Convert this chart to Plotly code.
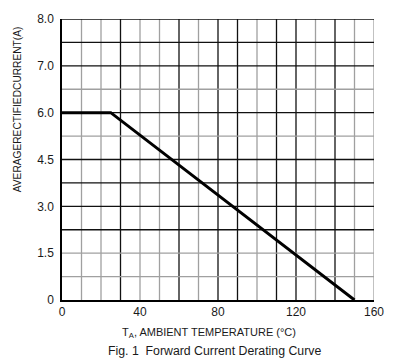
import plotly.graph_objects as go

# Data
temp_c = [0, 25, 150]
current_a = [6.0, 6.0, 0.0]
x_tick_vals = [0, 40, 80, 120, 160]
x_tick_text = ["0", "40", "80", "120", "160"]
# printed y labels sit on an evenly spaced scale (top two labels as printed)
y_tick_vals = [0, 1.5, 3.0, 4.5, 6.0, 7.5, 9.0]
y_tick_text = ["0", "1.5", "3.0", "4.5", "6.0", "7.0", "8.0"]
x_grid = [10, 20, 30, 40, 50, 60, 70, 80, 90, 100, 110, 120, 130, 140, 150, 160]
x_grid_dark = [0, 0, 1, 0, 0, 1, 0, 1, 1, 0, 1, 1, 0, 1, 0, 0]
y_grid = [0.75, 1.5, 2.25, 3.0, 3.75, 4.5, 5.25, 6.0, 6.75, 7.5, 8.25, 9.0]
y_grid_dark = [0, 0, 1, 1, 1, 1, 0, 1, 0, 1, 1, 1]

BLACK = "#111111"
GRAY = "#a0a0a0"
FONT = "Liberation Sans, Arial, sans-serif"

fig = go.Figure()
fig.add_trace(go.Scatter(x=temp_c, y=current_a, mode="lines",
                         line=dict(color="#000000", width=3), hoverinfo="skip",
                         showlegend=False))

shapes = []
for xv, d in zip(x_grid, x_grid_dark):
    shapes.append(dict(type="line", xref="x", yref="y", x0=xv, x1=xv, y0=0, y1=9,
                       line=dict(color=BLACK if d else GRAY, width=1.3), layer="below"))
for yv, d in zip(y_grid, y_grid_dark):
    shapes.append(dict(type="line", xref="x", yref="y", x0=0, x1=160, y0=yv, y1=yv,
                       line=dict(color=BLACK if d else GRAY, width=1.3), layer="below"))

fig.update_layout(
    width=396, height=358,
    margin=dict(l=62, r=21, t=16, b=58),
    plot_bgcolor="white", paper_bgcolor="white",
    shapes=shapes,
    xaxis=dict(range=[0, 160], tickvals=x_tick_vals, ticktext=x_tick_text,
               showgrid=False, zeroline=False, showline=True, linecolor="#000",
               linewidth=1.5, ticks="", ticklabelstandoff=0,
               tickfont=dict(family=FONT, size=12, color="#1a1a1a")),
    yaxis=dict(range=[0, 9], tickvals=y_tick_vals, ticktext=y_tick_text,
               showgrid=False, zeroline=False, showline=True, linecolor="#000",
               linewidth=1.5, ticks="", ticklabelstandoff=4,
               tickfont=dict(family=FONT, size=12, color="#1a1a1a")),
    annotations=[
        dict(text="T<sub>A</sub>, AMBIENT TEMPERATURE (°C)", xref="paper", yref="paper",
             x=0.47, y=-0.116, xanchor="center", yanchor="middle", showarrow=False,
             font=dict(family=FONT, size=11, color="#1a1a1a")),
        dict(text="Fig. 1  Forward Current Derating Curve", xref="paper", yref="paper",
             x=0.49, y=-0.182, xanchor="center", yanchor="middle", showarrow=False,
             font=dict(family=FONT, size=12.3, color="#1a1a1a")),
        dict(text="AVERAGERECTIFIEDCURRENT(A)", xref="paper", yref="paper",
             x=-0.14, y=0.68, xanchor="center", yanchor="middle", showarrow=False,
             textangle=-90, font=dict(family=FONT, size=10.2, color="#1a1a1a")),
    ],
)

fig.write_html("out.html", config={"displayModeBar": False},
               post_script="document.body.style.margin='0';document.body.style.overflow='hidden';")
